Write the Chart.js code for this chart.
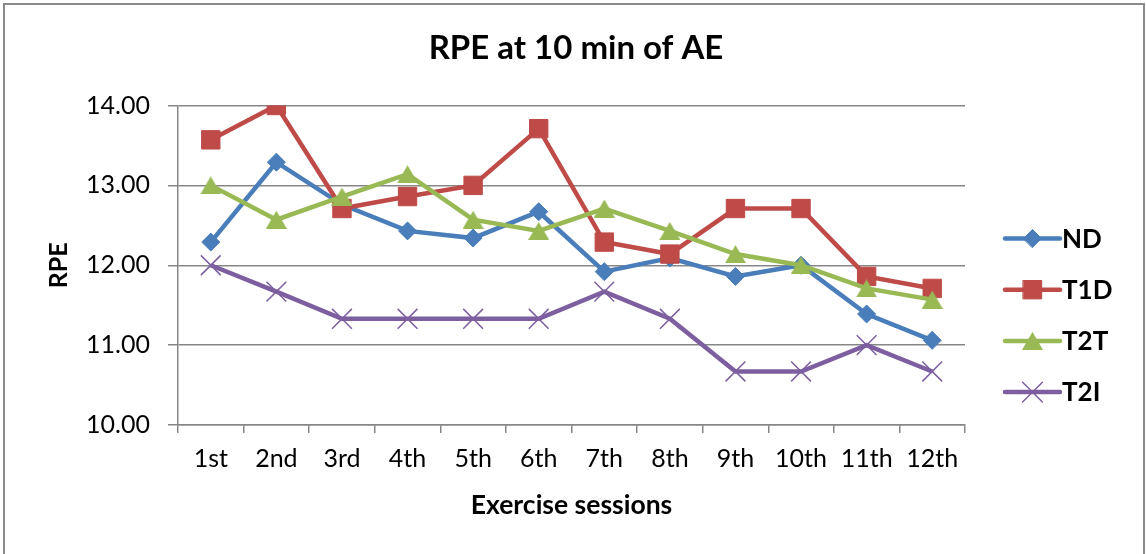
<!DOCTYPE html>
<html>
<head>
<meta charset="utf-8">
<script src="https://cdn.jsdelivr.net/npm/chart.js@4.4.1/dist/chart.umd.min.js"></script>
<style>
  html, body { margin: 0; padding: 0; background: #ffffff; }
  canvas { display: block; }
</style>
</head>
<body>
<canvas id="rpeChart" width="1146" height="554"></canvas>
<script>
// Exercise sessions on the x axis
const sessions = ['1st', '2nd', '3rd', '4th', '5th', '6th', '7th', '8th', '9th', '10th', '11th', '12th'];

// Mean RPE at 10 min of aerobic exercise, per group
const ndValues  = [12.29, 13.29, 12.76, 12.43, 12.34, 12.67, 11.92, 12.09, 11.86, 12.00, 11.39, 11.06];
const t1dValues = [13.57, 14.00, 12.71, 12.86, 13.00, 13.71, 12.29, 12.14, 12.71, 12.71, 11.86, 11.71];
const t2tValues = [13.00, 12.57, 12.86, 13.14, 12.57, 12.43, 12.71, 12.43, 12.14, 12.00, 11.71, 11.57];
const t2iValues = [12.00, 11.67, 11.33, 11.33, 11.33, 11.33, 11.67, 11.33, 10.67, 10.67, 11.00, 10.67];

const groupNames = ['ND', 'T1D', 'T2T', 'T2I'];
const groupColors = ['#4A7EBB', '#BE4B48', '#98B954', '#7D5FA0'];

const chartTitle = 'RPE at 10 min of AE';

const FONT = 'Lato';
const GRID = '#878787';

// Triangle marker whose bounding box is centred on the point
function triangleMarker(color, w, h) {
  const c = document.createElement('canvas');
  c.width = w; c.height = h;
  const g = c.getContext('2d');
  g.fillStyle = color;
  g.beginPath();
  g.moveTo(w / 2, 0);
  g.lineTo(w, h);
  g.lineTo(0, h);
  g.closePath();
  g.fill();
  return c;
}

const markers = [
  { pointStyle: 'rectRot', radius: 9, borderWidth: 1 },
  { pointStyle: 'rect', radius: 13, borderWidth: 1 },
  { pointStyle: triangleMarker(groupColors[2], 21, 18), radius: 10, borderWidth: 0 },
  { pointStyle: 'crossRot', radius: 14, borderWidth: 1.5 }
];

const seriesValues = [ndValues, t1dValues, t2tValues, t2iValues];

const datasets = groupNames.map((name, i) => ({
  label: name,
  data: seriesValues[i],
  borderColor: groupColors[i],
  backgroundColor: groupColors[i],
  borderWidth: 4.5,
  tension: 0,
  pointStyle: markers[i].pointStyle,
  pointRadius: markers[i].radius,
  pointHoverRadius: markers[i].radius,
  pointBorderWidth: markers[i].borderWidth,
  pointBorderColor: groupColors[i],
  pointBackgroundColor: groupColors[i],
  order: groupNames.length - i
}));

// White page, grey frame around the whole chart, and the centred title
const framePlugin = {
  id: 'frame',
  beforeDraw(chart) {
    const ctx = chart.ctx;
    ctx.save();
    ctx.fillStyle = '#ffffff';
    ctx.fillRect(0, 0, chart.width, chart.height);
    ctx.strokeStyle = '#8a8a8a';
    ctx.lineWidth = 2;
    ctx.strokeRect(4, 4, 1140, 570);
    ctx.fillStyle = '#000000';
    ctx.font = 'bold 33px ' + FONT;
    ctx.textAlign = 'center';
    ctx.textBaseline = 'middle';
    ctx.fillText(chartTitle, 576, 48);
    ctx.restore();
  }
};

// Legend on the right: a short line with the series marker, then the name
const lineLegendPlugin = {
  id: 'lineLegend',
  afterDraw(chart) {
    const ctx = chart.ctx;
    const x0 = 1005, x1 = 1060, top = 238.5, step = 51.2;
    ctx.save();
    chart.data.datasets.forEach((ds, i) => {
      const y = top + i * step;
      ctx.strokeStyle = ds.borderColor;
      ctx.lineWidth = 4.5;
      ctx.lineCap = 'round';
      ctx.beginPath();
      ctx.moveTo(x0, y);
      ctx.lineTo(x1, y);
      ctx.stroke();
      ctx.fillStyle = ds.pointBackgroundColor;
      ctx.strokeStyle = ds.pointBorderColor;
      ctx.lineWidth = ds.pointBorderWidth;
      Chart.helpers.drawPoint(ctx, {
        pointStyle: ds.pointStyle,
        radius: ds.pointRadius,
        borderWidth: ds.pointBorderWidth,
        rotation: 0
      }, (x0 + x1) / 2, y);
      ctx.fillStyle = '#000000';
      ctx.font = 'bold 26px ' + FONT;
      ctx.textAlign = 'left';
      ctx.textBaseline = 'middle';
      ctx.fillText(ds.label, 1062, y + 1);
    });
    ctx.restore();
  }
};

function build() {
  new Chart(document.getElementById('rpeChart'), {
    type: 'line',
    data: { labels: sessions, datasets },
    plugins: [framePlugin, lineLegendPlugin],
    options: {
      responsive: false,
      animation: false,
      devicePixelRatio: 1,
      layout: { padding: { left: 0, right: 181, top: 105.5, bottom: 0 } },
      plugins: {
        legend: { display: false },
        tooltip: { enabled: false },
        title: { display: false }
      },
      scales: {
        x: {
          type: 'category',
          offset: true,
          grid: {
            offset: true,
            drawOnChartArea: false,
            drawTicks: true,
            tickLength: 8,
            color: GRID,
            lineWidth: 1.5
          },
          border: { color: GRID, width: 1.5 },
          ticks: {
            color: '#000000',
            font: { family: FONT, size: 25 },
            padding: 11,
            maxRotation: 0,
            autoSkip: false
          },
          title: {
            display: true,
            text: 'Exercise sessions',
            color: '#000000',
            font: { family: FONT, size: 26.5, weight: 'bold' },
            padding: { top: 4, bottom: 33 }
          },
          afterFit(scale) { scale.height = 129; }
        },
        y: {
          min: 10,
          max: 14,
          grid: {
            color: GRID,
            lineWidth: 1.5,
            drawTicks: true,
            tickLength: 10
          },
          border: { color: GRID, width: 1.5 },
          ticks: {
            stepSize: 1,
            color: '#000000',
            font: { family: FONT, size: 25 },
            padding: 18,
            callback: (v) => Number(v).toFixed(2)
          },
          title: {
            display: true,
            text: 'RPE',
            color: '#000000',
            font: { family: FONT, size: 25, weight: 'bold' },
            padding: { top: 44, bottom: 4 }
          },
          afterFit(scale) { scale.width = 178; }
        }
      }
    }
  });
}

Promise.all([
  document.fonts.load('24px Lato'),
  document.fonts.load('bold 24px Lato')
]).then(build, build);
</script>
</body>
</html>
